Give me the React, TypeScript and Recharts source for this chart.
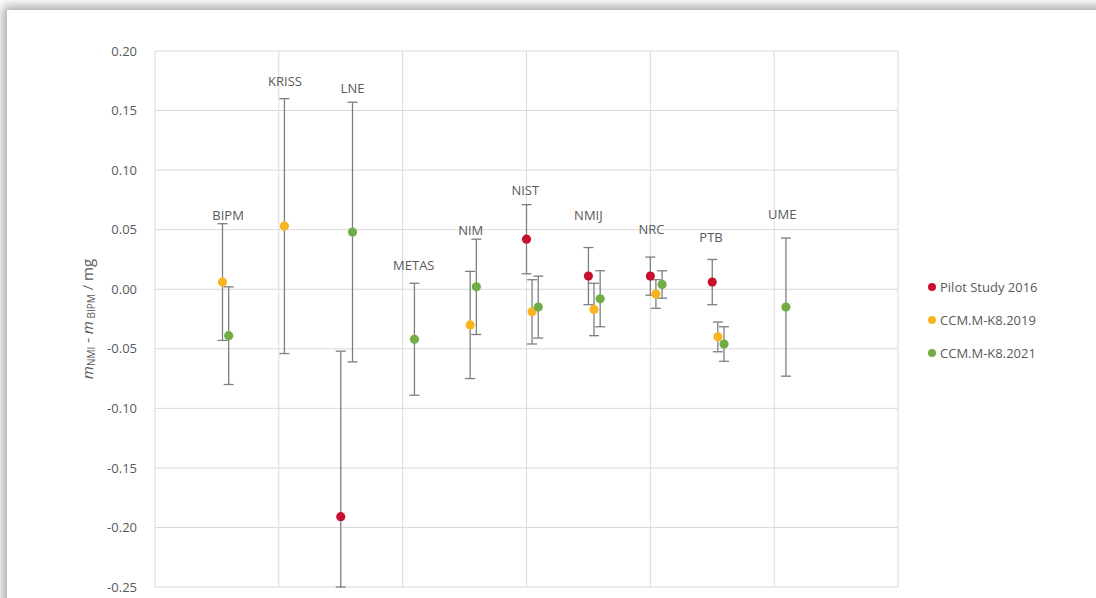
import {
  ScatterChart,
  Scatter,
  XAxis,
  YAxis,
  CartesianGrid,
  ErrorBar,
} from 'recharts'

// labs along the x axis (category i sits at x = i + 1)
const labs = ['BIPM', 'KRISS', 'LNE', 'METAS', 'NIM', 'NIST', 'NMIJ', 'NRC', 'PTB', 'UME']

// values, mg (null = lab not in that study)
const pilot2016 = [null, null, -0.191, null, null, 0.042, 0.011, 0.011, 0.006, null]
const pilot2016Err = [null, null, 0.139, null, null, 0.029, 0.024, 0.016, 0.019, null]

const k8_2019 = [0.006, 0.053, null, null, -0.03, -0.019, -0.017, -0.004, -0.04, null]
const k8_2019Err = [0.049, 0.107, null, null, 0.045, 0.027, 0.022, 0.012, 0.0125, null]

const k8_2021 = [-0.039, null, 0.048, -0.042, 0.002, -0.015, -0.008, 0.004, -0.046, -0.015]
const k8_2021Err = [0.041, null, 0.109, 0.047, 0.04, 0.026, 0.0235, 0.0115, 0.0145, 0.058]

// lab name labels: x and y in data units
const labelX = [1.18, 2.1, 3.19, 4.18, 5.1, 5.98, 7.0, 8.02, 8.98, 10.13]
const labelY = [0.062, 0.175, 0.169, 0.0205, 0.05, 0.083, 0.062, 0.0505, 0.044, 0.063]

const yTicks = [-0.25, -0.2, -0.15, -0.1, -0.05, 0, 0.05, 0.1, 0.15, 0.2]
const xTicks = [0, 2, 4, 6, 8, 10, 12]
const Y_MIN = -0.25
const Y_MAX = 0.2

const series = [
  { name: 'Pilot Study 2016', values: pilot2016, errs: pilot2016Err, shift: 0, color: '#c8102e' },
  { name: 'CCM.M-K8.2019', values: k8_2019, errs: k8_2019Err, shift: 0.09, color: '#f9b520' },
  { name: 'CCM.M-K8.2021', values: k8_2021, errs: k8_2021Err, shift: 0.19, color: '#70ad47' },
]

// error bars are cut at the plot edges, like the original
const toPoints = (values: (number | null)[], errs: (number | null)[], shift: number) =>
  values
    .map((v, i) => {
      if (v === null) return null
      const e = errs[i] as number
      return {
        x: i + 1 + shift,
        y: v,
        err: [Math.min(e, v - Y_MIN), Math.min(e, Y_MAX - v)],
      }
    })
    .filter((p) => p !== null)

const labelData = labs.map((name, i) => ({ x: labelX[i], y: labelY[i], name }))

const FONT = '"Open Sans", sans-serif'
const GREY = '#595959'

function Dot(color: string) {
  return (props: any) => <circle cx={props.cx} cy={props.cy} r={4.6} fill={color} />
}

function LabText(props: any) {
  return (
    <text
      x={props.cx}
      y={props.cy}
      textAnchor="middle"
      dominantBaseline="central"
      fontFamily={FONT}
      fontSize={13}
      fill={GREY}
    >
      {props.payload.name}
    </text>
  )
}

function YTitle(props: any) {
  const vb = props.viewBox
  const cx = 87
  const cy = vb.y + vb.height / 2
  return (
    <text
      x={cx}
      y={cy}
      transform={`rotate(-90, ${cx}, ${cy})`}
      textAnchor="middle"
      dominantBaseline="central"
      fontFamily={FONT}
      fontSize={15}
      fill={GREY}
    >
      <tspan fontStyle="italic">m</tspan>
      <tspan fontSize={10} dy={4}>NMI</tspan>
      <tspan dy={-4}> - </tspan>
      <tspan fontStyle="italic">m</tspan>
      <tspan fontSize={10} dy={4}> BIPM</tspan>
      <tspan dy={-4}> / mg</tspan>
    </text>
  )
}

function LegendBox() {
  return (
    <div
      style={{
        position: 'absolute',
        left: 928,
        top: 270,
        fontFamily: FONT,
        fontSize: 13,
        color: GREY,
      }}
    >
      {series.map((s) => (
        <div key={s.name} style={{ display: 'flex', alignItems: 'center', height: 33 }}>
          <span
            style={{
              width: 8,
              height: 8,
              borderRadius: 4,
              background: s.color,
              marginRight: 4,
              display: 'inline-block',
            }}
          />
          {s.name}
        </div>
      ))}
    </div>
  )
}

export default function App() {
  return (
    <div
      style={{
        position: 'fixed',
        left: 0,
        top: 0,
        width: 1096,
        height: 598,
        overflow: 'hidden',
        background: '#ffffff',
      }}
    >
      <div
        style={{
          position: 'absolute',
          left: 7,
          top: 10,
          width: 1200,
          height: 700,
          background: '#ffffff',
          boxShadow: '0 0 10px 4px rgba(0,0,0,0.35)',
        }}
      />
      <div style={{ position: 'absolute', left: 0, top: 0 }}>
        <ScatterChart
          width={1096}
          height={598}
          margin={{ top: 51, right: 198, bottom: 11, left: 95 }}
        >
          <CartesianGrid stroke="#d9d9d9" strokeWidth={1} />
          <XAxis type="number" dataKey="x" domain={[0, 12]} ticks={xTicks} hide />
          <YAxis
            type="number"
            dataKey="y"
            domain={[Y_MIN, Y_MAX]}
            ticks={yTicks}
            allowDataOverflow
            width={60}
            axisLine={false}
            tickLine={false}
            tickSize={0}
            tickMargin={18}
            tickFormatter={(v: number) => v.toFixed(2)}
            tick={{ fontFamily: FONT, fontSize: 13, fill: GREY }}
            label={<YTitle />}
          />
          {series.map((s) => (
            <Scatter
              key={s.name}
              name={s.name}
              data={toPoints(s.values, s.errs, s.shift)}
              shape={Dot(s.color)}
              isAnimationActive={false}
            >
              <ErrorBar
                dataKey="err"
                direction="y"
                width={5}
                stroke="#7f7f7f"
                strokeWidth={1.3}
                isAnimationActive={false}
              />
            </Scatter>
          ))}
          <Scatter
            name="labels"
            data={labelData}
            shape={LabText}
            legendType="none"
            isAnimationActive={false}
          />
        </ScatterChart>
      </div>
      <LegendBox />
    </div>
  )
}
